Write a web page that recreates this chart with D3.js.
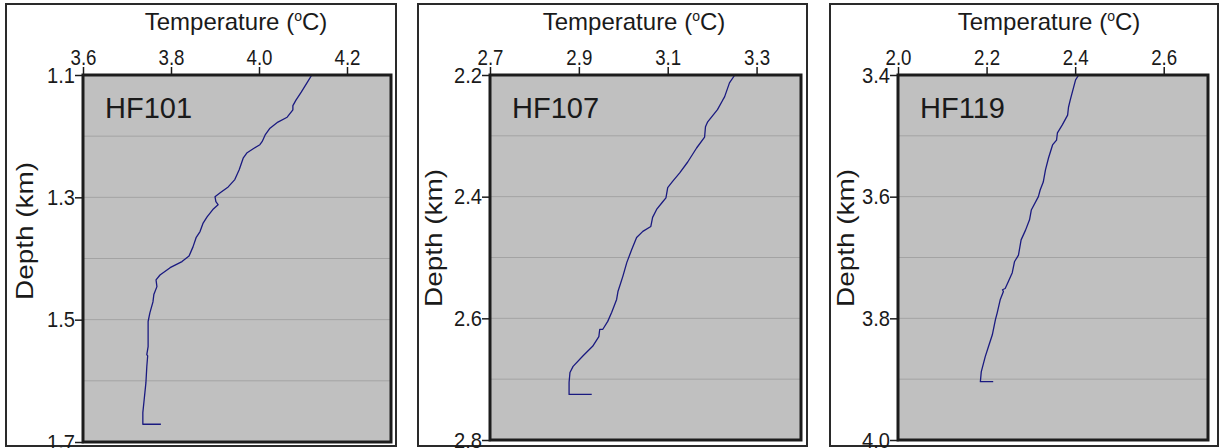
<!DOCTYPE html>
<html>
<head>
<meta charset="utf-8">
<script src="https://cdn.jsdelivr.net/npm/d3@7/dist/d3.min.js"></script>
<style>
	body { margin: 0; background: #fff; }
	svg text { font-family: "Liberation Sans", Arial, sans-serif; fill: #1a1a1a; }
</style>
</head>
<body>
<svg id="chart" width="1222" height="448"></svg>
<script>
// well names
var wells = ["HF101", "HF107", "HF119"];

// temperature (C) / depth (km) profiles
var hf101Temp  = [4.120, 4.109, 4.096, 4.084, 4.077, 4.077, 4.064, 4.043, 4.025, 4.014, 4.007, 4.002, 3.986, 3.973, 3.964, 3.955, 3.945, 3.930, 3.911, 3.900, 3.902, 3.907, 3.895, 3.882, 3.873, 3.866, 3.857, 3.850, 3.841, 3.825, 3.798, 3.775, 3.766, 3.768, 3.761, 3.759, 3.752, 3.748, 3.748, 3.748, 3.745, 3.747, 3.745, 3.743, 3.739, 3.736, 3.736, 3.777];
var hf101Depth = [1.100, 1.113, 1.128, 1.141, 1.150, 1.157, 1.169, 1.177, 1.187, 1.198, 1.209, 1.214, 1.221, 1.227, 1.236, 1.255, 1.271, 1.283, 1.293, 1.299, 1.307, 1.312, 1.320, 1.332, 1.342, 1.356, 1.366, 1.381, 1.396, 1.405, 1.415, 1.427, 1.435, 1.446, 1.459, 1.471, 1.489, 1.503, 1.521, 1.544, 1.557, 1.559, 1.577, 1.603, 1.631, 1.652, 1.671, 1.671];

var hf107Temp  = [3.251, 3.239, 3.228, 3.224, 3.212, 3.190, 3.185, 3.183, 3.165, 3.145, 3.127, 3.111, 3.100, 3.096, 3.087, 3.075, 3.066, 3.062, 3.044, 3.030, 3.019, 3.008, 2.999, 2.988, 2.985, 2.974, 2.965, 2.954, 2.947, 2.945, 2.931, 2.909, 2.887, 2.880, 2.878, 2.878, 2.929];
var hf107Depth = [2.200, 2.213, 2.236, 2.241, 2.257, 2.277, 2.285, 2.302, 2.320, 2.343, 2.361, 2.375, 2.385, 2.402, 2.410, 2.421, 2.434, 2.449, 2.457, 2.467, 2.487, 2.508, 2.531, 2.556, 2.569, 2.590, 2.605, 2.618, 2.618, 2.630, 2.646, 2.662, 2.679, 2.689, 2.705, 2.725, 2.725];

var hf119Temp  = [2.408, 2.401, 2.389, 2.385, 2.383, 2.371, 2.360, 2.358, 2.349, 2.340, 2.333, 2.328, 2.321, 2.317, 2.301, 2.297, 2.288, 2.278, 2.272, 2.263, 2.258, 2.249, 2.242, 2.236, 2.238, 2.231, 2.224, 2.220, 2.213, 2.204, 2.197, 2.188, 2.186, 2.215];
var hf119Depth = [3.400, 3.408, 3.441, 3.453, 3.466, 3.482, 3.495, 3.507, 3.515, 3.536, 3.556, 3.576, 3.589, 3.600, 3.622, 3.638, 3.655, 3.671, 3.696, 3.707, 3.725, 3.740, 3.751, 3.753, 3.756, 3.769, 3.791, 3.802, 3.827, 3.847, 3.863, 3.888, 3.904, 3.904];

// axes
var tempDomains  = [[3.6, 4.3], [2.7, 3.4], [2.0, 2.7]];
var tempTicks    = [[3.6, 3.8, 4.0, 4.2], [2.7, 2.9, 3.1, 3.3], [2.0, 2.2, 2.4, 2.6]];
var depthDomains = [[1.1, 1.7], [2.2, 2.8], [3.4, 4.0]];
var depthTicks   = [[1.1, 1.3, 1.5, 1.7], [2.2, 2.4, 2.6, 2.8], [3.4, 3.6, 3.8, 4.0]];
var gridStep = 0.1;

var profiles = [
	{ temp: hf101Temp, depth: hf101Depth },
	{ temp: hf107Temp, depth: hf107Depth },
	{ temp: hf119Temp, depth: hf119Depth }
];

// panel boxes in page pixels
var layout = [
	{ frame: [6, 4, 396, 446],    plot: [83, 75, 391, 442],   titleX: 236,  labelX: 25,  labelY: 231 },
	{ frame: [418, 4, 807, 446],  plot: [490, 75, 801, 440],  titleX: 634,  labelX: 434, labelY: 238 },
	{ frame: [830, 4, 1218, 446], plot: [898, 75, 1208, 440], titleX: 1049, labelX: 846, labelY: 238 }
];

var svg = d3.select("#chart");

function drawPanel(i) {
	var L = layout[i];
	var p = L.plot;
	var w = p[2] - p[0], h = p[3] - p[1];

	// outer frame
	svg.append("rect")
		.attr("x", L.frame[0]).attr("y", L.frame[1])
		.attr("width", L.frame[2] - L.frame[0]).attr("height", L.frame[3] - L.frame[1])
		.attr("fill", "#fff").attr("stroke", "#2a2a2a").attr("stroke-width", 2);

	var x = d3.scaleLinear().domain(tempDomains[i]).range([0, w]);
	var y = d3.scaleLinear().domain(depthDomains[i]).range([0, h]);

	var g = svg.append("g").attr("transform", "translate(" + p[0] + "," + p[1] + ")");

	g.append("rect").attr("width", w).attr("height", h).attr("fill", "#c0c0c0");

	// grid every 0.1 km
	var d0 = depthDomains[i][0], d1 = depthDomains[i][1];
	var grid = d3.range(1, Math.round((d1 - d0) / gridStep)).map(function(k) { return d0 + k * gridStep; });

	g.selectAll(".grid")
		.data(grid)
		.enter().append("line")
		.attr("class", "grid")
		.attr("x1", 0).attr("x2", w)
		.attr("y1", function(d) { return y(d); })
		.attr("y2", function(d) { return y(d); })
		.attr("stroke", "#a3a3a3").attr("stroke-width", 1);

	// profile
	var pts = profiles[i].temp.map(function(t, k) { return { t: t, d: profiles[i].depth[k] }; });

	var line = d3.line()
		.x(function(d) { return x(d.t); })
		.y(function(d) { return y(d.d); });

	g.append("path")
		.datum(pts)
		.attr("d", line)
		.attr("fill", "none")
		.attr("stroke", "#1a1a80")
		.attr("stroke-width", 1.3)
		.attr("stroke-linejoin", "round");

	// plot border
	g.append("rect").attr("width", w).attr("height", h)
		.attr("fill", "none").attr("stroke", "#1c1c1c").attr("stroke-width", 3);

	// top axis
	var top = g.append("g")
		.call(d3.axisTop(x).tickValues(tempTicks[i]).tickFormat(d3.format(".1f")).tickSize(7).tickPadding(3).tickSizeOuter(0));

	// left axis
	var left = g.append("g")
		.call(d3.axisLeft(y).tickValues(depthTicks[i]).tickFormat(d3.format(".1f")).tickSize(7).tickPadding(1).tickSizeOuter(0));

	[top, left].forEach(function(a) {
		a.select(".domain").remove();
		a.selectAll(".tick line").attr("stroke", "#1c1c1c").attr("stroke-width", 1.5);
		a.selectAll(".tick text").attr("font-family", null).attr("fill", "#1a1a1a");
	});
	top.selectAll(".tick line").attr("y2", -8).attr("y1", 1);
	left.selectAll(".tick line").attr("x2", -8).attr("x1", 1);

	top.selectAll(".tick text").attr("font-size", 22)
		.attr("textLength", 26).attr("lengthAdjust", "spacingAndGlyphs");
	left.selectAll(".tick text").attr("font-size", 22)
		.attr("textLength", 28).attr("lengthAdjust", "spacingAndGlyphs");

	// well name
	g.append("text")
		.attr("x", 22).attr("y", 43)
		.attr("font-size", 29)
		.text(wells[i]);

	// titles
	var t = svg.append("text")
		.attr("x", L.titleX).attr("y", 30)
		.attr("text-anchor", "middle")
		.attr("font-size", 24);
	t.append("tspan").text("Temperature (");
	t.append("tspan").attr("font-size", 14).attr("dy", -9).text("o");
	t.append("tspan").attr("dy", 9).text("C)");

	svg.append("text")
		.attr("transform", "translate(" + L.labelX + "," + L.labelY + ") rotate(-90)")
		.attr("text-anchor", "middle")
		.attr("dy", "0.35em")
		.attr("font-size", 24)
		.attr("textLength", 138).attr("lengthAdjust", "spacingAndGlyphs")
		.text("Depth (km)");
}

for (var i = 0; i < wells.length; i++) drawPanel(i);
</script>
</body>
</html>
